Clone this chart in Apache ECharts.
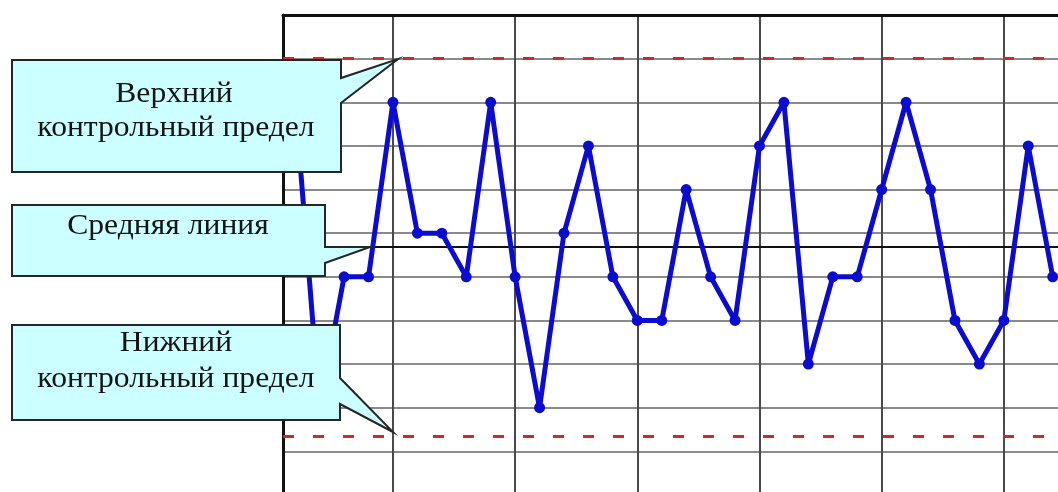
<!DOCTYPE html>
<html>
<head>
<meta charset="utf-8">
<script src="https://cdn.jsdelivr.net/npm/echarts@6/dist/echarts.min.js"></script>
<style>
html,body{margin:0;padding:0;background:#ffffff;}
#chart{width:1058px;height:492px;}
</style>
</head>
<body>
<div id="chart"></div>
<script>
// ---- data ----
const sampleNo = [1,2,3,4,5,6,7,8,9,10,11,12,13,14,15,16,17,18,19,20,21,22,23,24,25,26,27,28,29,30,31,32];
const measured = [8,1,4,4,8,5,5,4,8,4,1,5,7,4,3,3,6,4,3,7,8,2,4,4,6,8,6,3,2,3,7,4];
const upperLimit = 9;
const centerLine = 4.7;
const lowerLimit = 0.35;
const upperLabel = ['Верхний', 'контрольный предел'];
const centerLabel = ['Средняя линия'];
const lowerLabel = ['Нижний', 'контрольный предел'];

const chart = echarts.init(document.getElementById('chart'), null, {renderer: 'canvas'});

const FONT = '29px "Liberation Serif", "Times New Roman", serif';
const BOX_FILL = '#ccffff';
const BOX_STROKE = '#262626';

function txt(str, x, y) {
  return {
    type: 'text', z: 101, x: x, y: y, scaleX: 1.09,
    style: {
      text: str, font: FONT, fill: '#141414',
      align: 'center', verticalAlign: 'middle',
      textAlign: 'center', textVerticalAlign: 'middle'
    }
  };
}
function box(points) {
  return {
    type: 'polygon', z: 100,
    shape: {points: points},
    style: {fill: BOX_FILL, stroke: BOX_STROKE, lineWidth: 2}
  };
}

const option = {
  animation: false,
  backgroundColor: '#ffffff',
  grid: {left: 283, top: 15, right: -68, bottom: -3, containLabel: false, outerBoundsMode: 'none'},
  xAxis: {
    type: 'value', position: 'top', min: 0.5, max: 35,
    minInterval: 5, maxInterval: 5,
    axisLine: {show: true, onZero: false, lineStyle: {color: '#111111', width: 3}},
    axisTick: {show: false},
    axisLabel: {show: false},
    splitLine: {show: true, lineStyle: {color: '#4a4a4a', width: 2}}
  },
  yAxis: {
    type: 'value', min: -1, max: 10, interval: 1,
    axisLine: {show: true, onZero: false, lineStyle: {color: '#111111', width: 3}},
    axisTick: {show: false},
    axisLabel: {show: false},
    splitLine: {show: true, lineStyle: {color: '#8a8a8a', width: 2}}
  },
  series: [
    {
      type: 'line',
      data: [],
      z: 1,
      markLine: {
        silent: true, symbol: 'none', z: 1, animation: false,
        label: {show: false},
        data: [
          {yAxis: upperLimit, lineStyle: {color: '#d42828', type: [11, 19], width: 3}},
          {yAxis: centerLine, lineStyle: {color: '#111111', type: 'solid', width: 2}},
          {yAxis: lowerLimit, lineStyle: {color: '#d42828', type: [11, 19], width: 3}}
        ]
      }
    },
    {
      type: 'line',
      z: 10,
      data: sampleNo.map((s, i) => [s, measured[i]]),
      symbol: 'circle',
      symbolSize: 11,
      lineStyle: {color: '#0c0cd0', width: 5},
      itemStyle: {color: '#0c0cd0'}
    }
  ],
  graphic: [
    box([[12,60],[341,60],[341,78],[398,59],[341,103],[341,172],[12,172]]),
    txt(upperLabel[0], 174, 94),
    txt(upperLabel[1], 176, 128),
    box([[12,205],[325,205],[325,247],[370,247],[325,263],[325,276],[12,276]]),
    txt(centerLabel[0], 168, 226),
    box([[12,325],[340,325],[340,378],[393,432],[340,404],[340,420],[12,420]]),
    txt(lowerLabel[0], 176, 343),
    txt(lowerLabel[1], 176, 379)
  ]
};
chart.setOption(option);
</script>
</body>
</html>
